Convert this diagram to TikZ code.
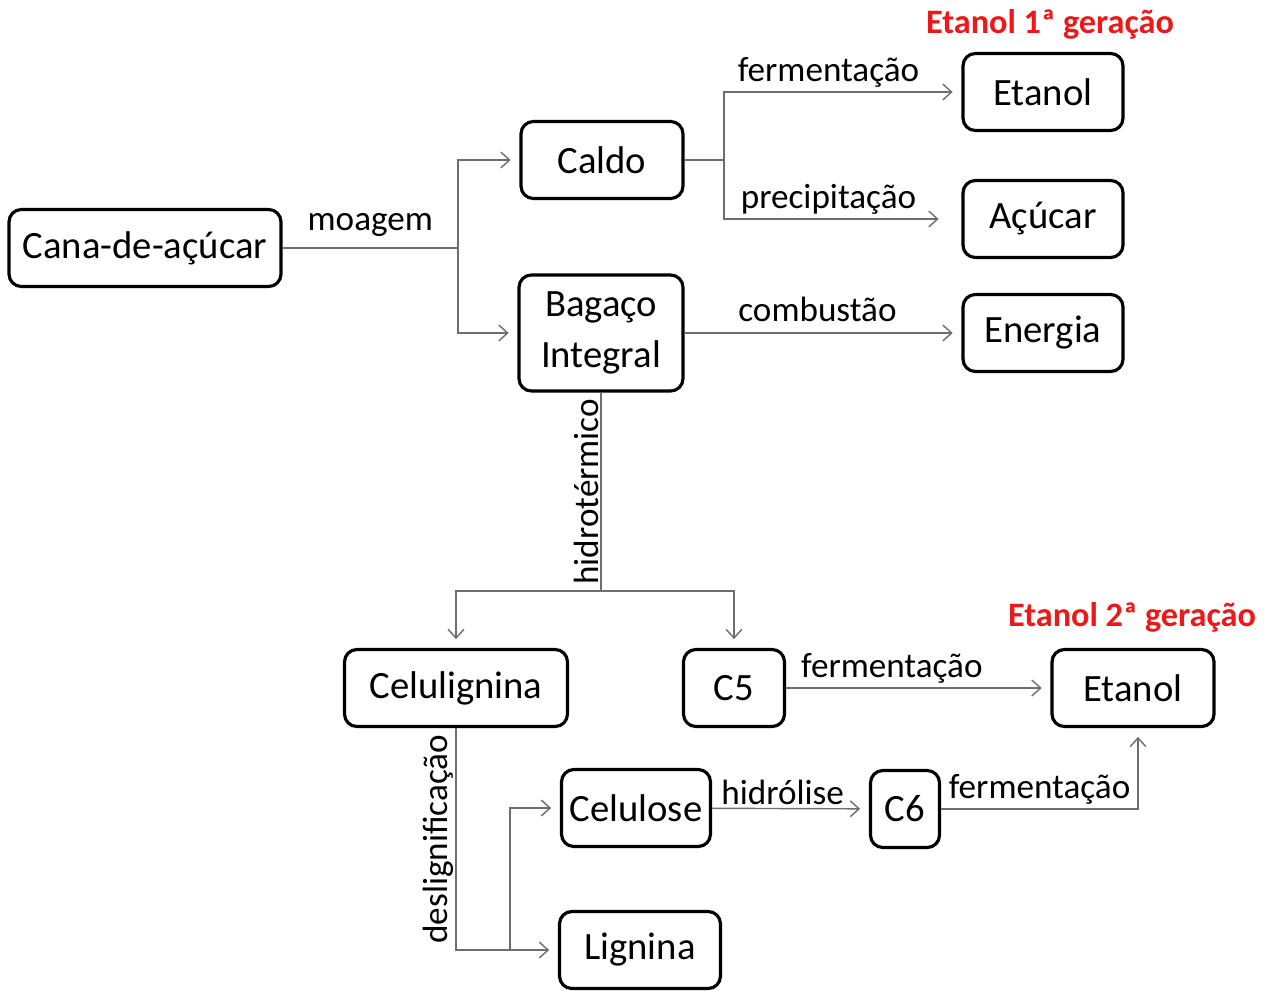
\documentclass[tikz,border=0pt]{standalone}
\usepackage{fontspec}
\setmainfont{Carlito}
\usetikzlibrary{arrows.meta, positioning, calc}
\definecolor{flowgray}{RGB}{110,110,110}
\definecolor{genred}{RGB}{235,25,25}

\begin{document}
\begin{tikzpicture}[x=0.02cm, y=-0.02cm,
    box/.style={rectangle, draw=black, line width=1.8pt, rounded corners=7pt,
        minimum height=1.54cm, inner sep=2pt, align=center,
        font=\fontsize{22}{29}\selectfont},
    link/.style={line width=0.8pt, color=flowgray},
    arrow/.style={-{Straight Barb[length=5pt, width=9pt]}, line width=0.8pt,
        color=flowgray, shorten >=5pt},
    lbl/.style={font=\fontsize{20}{22}\selectfont, text=black, inner sep=2pt},
    gen/.style={font=\fontsize{19.5}{22}\selectfont\bfseries, text=genred}
]
\useasboundingbox (0,0) rectangle (1270,990);

\node[box, minimum width=5.44cm] (cana)     at (145,248)  {Cana-de-açúcar};
\node[box, minimum width=3.24cm] (caldo)    at (602,160)  {Caldo};
\node[box, minimum width=3.28cm, minimum height=2.32cm]
                                 (bagaco)   at (601,333)  {Bagaço\\Integral};
\node[box, minimum width=3.2cm]  (etanolA)  at (1043,92)  {Etanol};
\node[box, minimum width=3.2cm]  (acucar)   at (1043,219) {Açúcar};
\node[box, minimum width=3.2cm]  (energia)  at (1043,333) {Energia};
\node[box, minimum width=4.46cm] (celulig)  at (456,688)  {Celulignina};
\node[box, minimum width=2.02cm] (cinco)    at (734,688)  {C5};
\node[box, minimum width=3.24cm] (etanolB)  at (1133,688) {Etanol};
\node[box, minimum width=2.98cm] (celulose) at (636,808)  {Celulose};
\node[box, minimum width=1.38cm] (seis)     at (905,809)  {C6};
\node[box, minimum width=3.22cm] (lignina)  at (640,950)  {Lignina};

\node[gen] (gen1) at (1050,24)  {Etanol 1ª geração};
\node[gen] (gen2) at (1132,617) {Etanol 2ª geração};

% moagem
\coordinate (mill) at (458,248);
\draw[link]  (cana) -- node[lbl, above=4pt] {moagem} (mill);
\draw[arrow] (mill) |- (caldo);
\draw[arrow] (mill) |- (bagaco);

% caldo
\coordinate (juice) at (724,160);
\draw[link]  (caldo) -- (juice);
\draw[arrow] (juice) |- node[lbl, pos=0.72, above] {fermentação} (etanolA);
\draw[arrow, shorten >=13pt] (juice) |- node[lbl, pos=0.72, above] {precipitação} (acucar);

% bagaco
\draw[arrow] (bagaco) -- node[lbl, pos=0.48, above=4pt] {combustão} (energia);
\coordinate (hydro) at (bagaco.south |- 0,591);
\draw[link]  (bagaco.south) -- node[lbl, anchor=south, rotate=90, inner sep=1pt] {hidrotérmico} (hydro);
\draw[arrow] (hydro) -| (celulig);
\draw[arrow] (hydro) -| (cinco);

% segunda geracao
\draw[arrow] (cinco) -- node[lbl, pos=0.4, above] {fermentação} (etanolB);
\coordinate (fork) at (510,950);
\draw[arrow] (celulig.south) |- node[lbl, pos=0.25, anchor=south, rotate=90, inner sep=1pt] {deslignificação} (lignina);
\draw[arrow] (fork) |- (celulose);
\draw[arrow] (celulose) -- node[lbl, pos=0.45, above] {hidrólise} (seis);
\draw[arrow] (seis) -| node[lbl, pos=0.25, above] {fermentação} ([xshift=0.1cm]etanolB.south);
\end{tikzpicture}
\end{document}
